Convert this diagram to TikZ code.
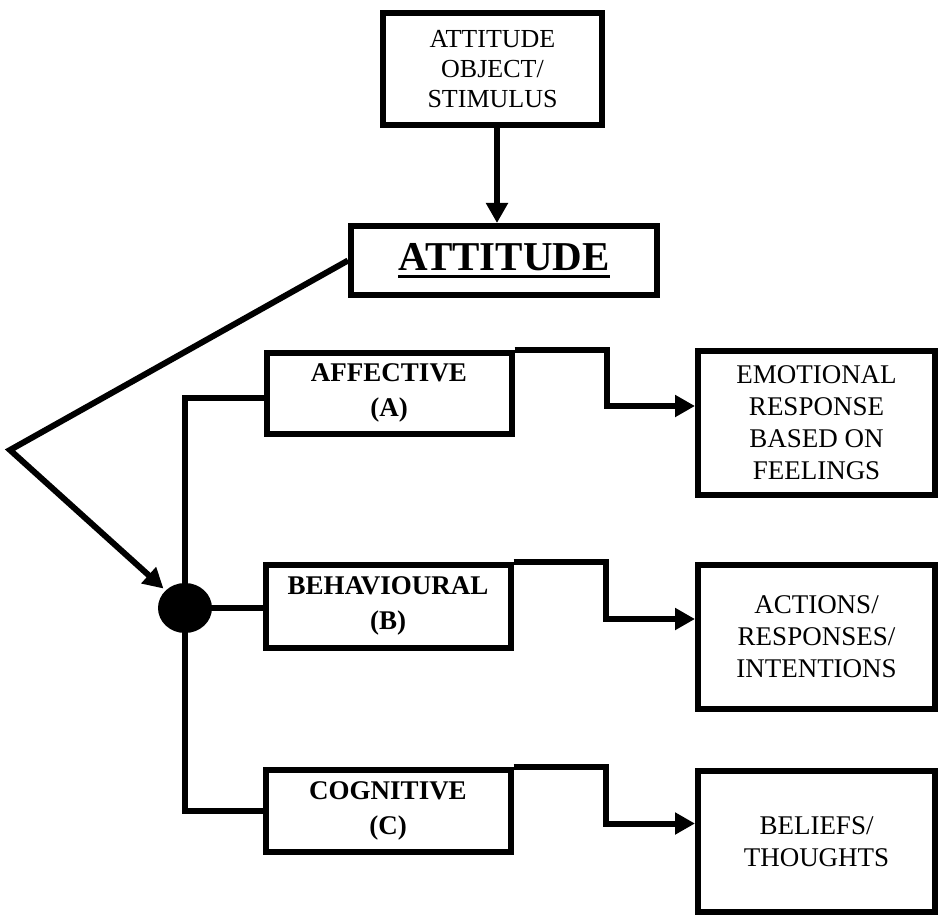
\documentclass[tikz,border=0pt]{standalone}
\usepackage{fontspec}
\setmainfont{Liberation Serif}
\usetikzlibrary{arrows.meta,shapes.geometric}
\newcommand\thickul[1]{\setbox0\hbox{#1}\rlap{\rule[-7pt]{\wd0}{3pt}}\box0}
\begin{document}
\begin{tikzpicture}[x=1pt,y=-1pt,
  line width=6pt,
  boxstyle/.style={draw, line width=6pt, inner sep=0pt, align=center},
  plainfont/.style={font=\fontsize{27}{32}\selectfont},
  boldfont/.style={font=\fontsize{27}{35}\selectfont\bfseries},
  arr/.style={-{Triangle[length=20pt,width=21pt]}, line width=6pt},
  conn/.style={line width=6pt, line join=miter}]
\useasboundingbox (0,0) rectangle (941,917);
% top box
\node[boxstyle, minimum width=219pt, minimum height=112pt,
      font=\fontsize{26}{30}\selectfont] (obj) at (492.5,69) {ATTITUDE\\OBJECT/\\STIMULUS};
% attitude
\node[boxstyle, minimum width=306pt, minimum height=69pt,
      font=\fontsize{41}{45}\selectfont\bfseries] (att) at (504,260.5) {\thickul{ATTITUDE}};
% components
\node[boxstyle, boldfont, minimum width=245pt, minimum height=81pt] (aff) at (389,393) {AFFECTIVE\\(A)};
\node[boxstyle, boldfont, minimum width=245pt, minimum height=83pt] (beh) at (388,606) {BEHAVIOURAL\\(B)};
\node[boxstyle, boldfont, minimum width=245pt, minimum height=82pt] (cog) at (388,811) {COGNITIVE\\(C)};
% results
\node[boxstyle, plainfont, minimum width=237pt, minimum height=144pt] (res1) at (816.5,423) {EMOTIONAL\\RESPONSE\\BASED ON\\FEELINGS};
\node[boxstyle, plainfont, minimum width=237pt, minimum height=144pt] (res2) at (816.5,637) {ACTIONS/\\RESPONSES/\\INTENTIONS};
\node[boxstyle, plainfont, minimum width=237pt, minimum height=141pt] (res3) at (816.5,841.5) {BELIEFS/\\THOUGHTS};
% junction dot
\node[ellipse, fill=black, minimum width=54pt, minimum height=50pt, inner sep=0pt] (dot) at (185,608) {};
% arrows
\coordinate (objfoot) at ([xshift=4.5pt]obj.south);
\draw[arr] (objfoot) -- (objfoot |- att.north);
\coordinate (bend) at (10,450);
\draw[arr, line join=miter] (att.west) -- (bend) -- (dot);
\draw[conn] ([yshift=-5pt]aff.west) -| (dot.center) |- (cog.west);
\draw[conn] (dot.center) -- (dot.center -| beh.west);
\draw[arr, line join=miter] (aff.north east) -- ++(92,0) |- ([yshift=17pt]res1.west);
\draw[arr, line join=miter] (beh.north east) -- ++(92,0) |- ([yshift=18pt]res2.west);
\draw[arr, line join=miter] (cog.north east) -- ++(92,0) |- ([yshift=18pt]res3.west);
\end{tikzpicture}
\end{document}
